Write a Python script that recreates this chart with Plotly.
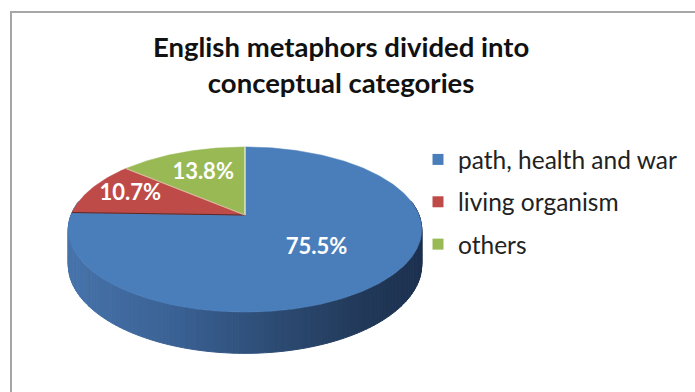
import numpy as np
import plotly.graph_objects as go

# Chart data
categories = ["path, health and war", "living organism", "others"]
shares = [75.5, 10.7, 13.8]
top_colors = ["#4A7EBB", "#BE4B48", "#98B954"]
title_text = "English metaphors divided into<br>conceptual categories"

W, H = 695, 392
FONT = "Lato"

# Pie geometry in page pixels (perspective-tilted disc)
CX, CY = 245.0, 215.0
RX, RY = 174.0, 80.0
PERSP = 0.176
DEPTH = 34.0
LABEL_R = [0.55, 0.74, 0.63]


def project(ang_deg, r=1.0, drop=0.0):
    """Map a clockwise angle from 12 o'clock on the disc to page pixels."""
    a = np.radians(ang_deg)
    X = r * np.sin(a)
    Y = r * np.cos(a)
    s = 1.0 + PERSP * Y
    return CX + RX * X / s, CY - RY * Y / s + drop / s


def lerp_color(stops, t):
    for (t0, c0), (t1, c1) in zip(stops[:-1], stops[1:]):
        if t <= t1:
            f = (t - t0) / (t1 - t0) if t1 > t0 else 0
            c0 = [int(c0[i:i + 2], 16) for i in (1, 3, 5)]
            c1 = [int(c1[i:i + 2], 16) for i in (1, 3, 5)]
            c = [round(a + (b - a) * f) for a, b in zip(c0, c1)]
            return "rgb({},{},{})".format(*c)
    return stops[-1][1]


# Side shading, light on the left to dark on the right
side_stops = [(0.0, "#4673AA"), (0.3, "#3A6194"), (0.6, "#2C4A72"), (0.85, "#213858"), (1.0, "#1D3150")]

fig = go.Figure()

# Side wall of the disc, drawn as thin shaded strips
angles = np.linspace(80, 280, 121)
xl, _ = project(270)
xr, _ = project(90)
for a0, a1 in zip(angles[:-1], angles[1:]):
    x0t, y0t = project(a0)
    x1t, y1t = project(a1)
    x0b, y0b = project(a0, drop=DEPTH)
    x1b, y1b = project(a1, drop=DEPTH)
    t = min(max(((x0t + x1t) / 2 - xl) / (xr - xl), 0), 1)
    col = lerp_color(side_stops, t)
    fig.add_trace(go.Scatter(
        x=[x0t, x1t, x1b, x0b, x0t], y=[y0t, y1t, y1b, y0b, y0t],
        mode="lines", fill="toself", fillcolor=col,
        line=dict(width=1, color=col), hoverinfo="skip", showlegend=False))

# Top face slices
total = sum(shares)
bounds = np.concatenate([[0], np.cumsum(shares) / total * 360])
for i, (name, val) in enumerate(zip(categories, shares)):
    a0, a1 = bounds[i], bounds[i + 1]
    arc = np.linspace(a0, a1, max(int(a1 - a0), 4) + 1)
    px, py = project(arc)
    xs = [CX] + list(px) + [CX]
    ys = [CY] + list(py) + [CY]
    fig.add_trace(go.Scatter(
        x=xs, y=ys, mode="lines", fill="toself", fillcolor=top_colors[i],
        line=dict(width=0.5, color=top_colors[i]), hoverinfo="skip", showlegend=False))

# Slice edges on the top face
edge_colors = ["#EEF3E6", "#5A2826", "#D8B9A0"]
for b, ec in zip(bounds[:-1], edge_colors):
    ex, ey = project(b)
    fig.add_trace(go.Scatter(x=[CX, ex], y=[CY, ey], mode="lines",
                             line=dict(width=1.2, color=ec), hoverinfo="skip", showlegend=False))

# Percentage labels
for i, val in enumerate(shares):
    mid = (bounds[i] + bounds[i + 1]) / 2
    lx, ly = project(mid, r=LABEL_R[i])
    fig.add_trace(go.Scatter(
        x=[lx], y=[ly], mode="text", text=[f"<b>{val:.1f}%</b>"],
        textfont=dict(family=FONT, size=22, color="white"),
        hoverinfo="skip", showlegend=False))

# Legend entries
for i, name in enumerate(categories):
    fig.add_trace(go.Scatter(
        x=[None], y=[None], mode="markers", name=name, legendgroup=name,
        marker=dict(symbol="square", size=11, color=top_colors[i])))

fig.update_layout(
    width=W, height=H, autosize=False,
    margin=dict(l=0, r=0, t=0, b=0),
    paper_bgcolor="white", plot_bgcolor="white",
    xaxis=dict(range=[0, W], visible=False, fixedrange=True),
    yaxis=dict(range=[H, 0], visible=False, fixedrange=True),
    annotations=[dict(text="<b>" + title_text + "</b>", x=341, y=64, xref="x", yref="y",
                      xanchor="center", yanchor="middle", showarrow=False, align="center",
                      font=dict(family=FONT, size=27.5, color="#111111"))],
    legend=dict(x=418 / W, y=1 - 137 / H, xanchor="left", yanchor="top",
                font=dict(family=FONT, size=24.5, color="#222222"),
                tracegroupgap=7.5, bgcolor="rgba(0,0,0,0)"),
    shapes=[dict(type="rect", xref="x", yref="y", x0=11, y0=12, x1=W + 10, y1=H + 10,
                 line=dict(color="#A6A6A6", width=2))],
    showlegend=True,
)

fig.write_html("out.html")
